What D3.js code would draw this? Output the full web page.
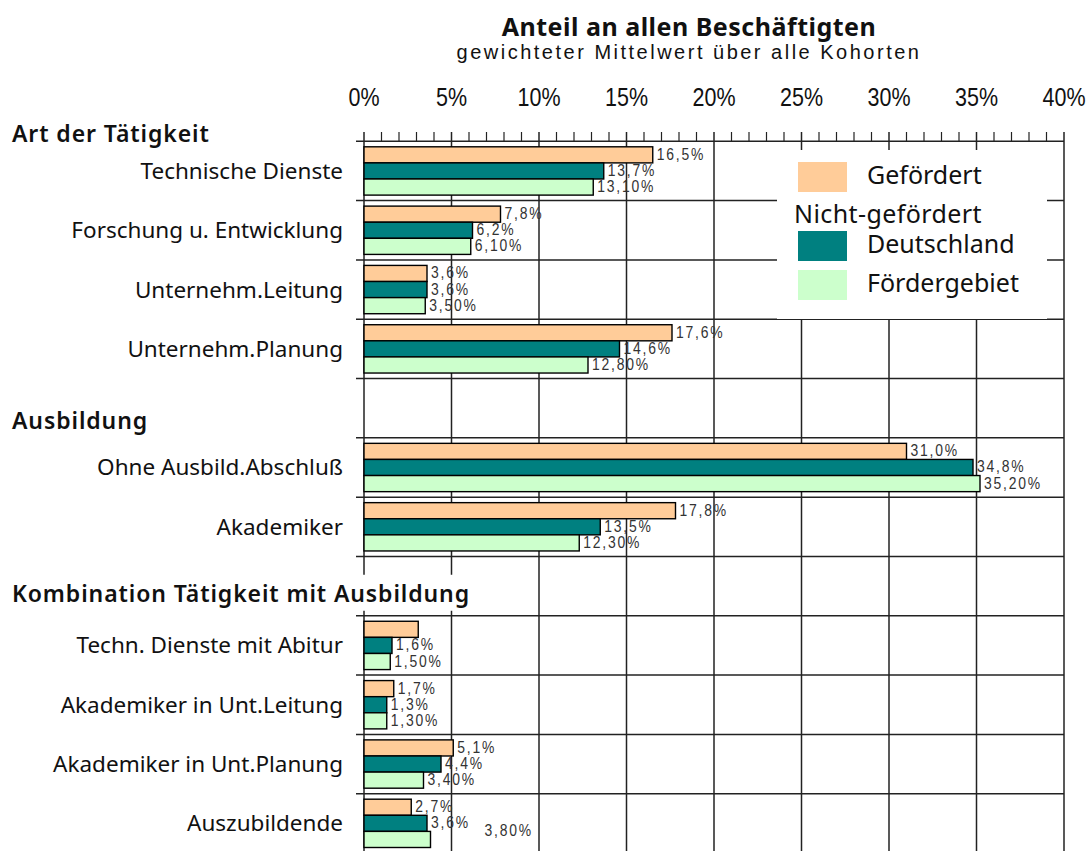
<!DOCTYPE html>
<html>
<head>
<meta charset="utf-8">
<script src="https://cdn.jsdelivr.net/npm/d3@7"></script>
<style>
  body { margin: 0; background: #fff; }
  text { font-family: "Noto Sans", sans-serif; fill: #111; }
  .narrow { font-family: "Liberation Sans", sans-serif; }
</style>
</head>
<body>
<div id="content"></div>
<script>
// data
const groups = ["Art der Tätigkeit", "Ausbildung", "Kombination Tätigkeit mit Ausbildung"]
const categories = ["Technische Dienste", "Forschung u. Entwicklung", "Unternehm.Leitung", "Unternehm.Planung",
  "Ohne Ausbild.Abschluß", "Akademiker",
  "Techn. Dienste mit Abitur", "Akademiker in Unt.Leitung", "Akademiker in Unt.Planung", "Auszubildende"]
const categoryGroup = [0, 0, 0, 0, 1, 1, 2, 2, 2, 2]
const gefoerdert = [16.5, 7.8, 3.6, 17.6, 31.0, 17.8, 3.1, 1.7, 5.1, 2.7]
const deutschland = [13.7, 6.2, 3.6, 14.6, 34.8, 13.5, 1.6, 1.3, 4.4, 3.6]
const foerdergebiet = [13.1, 6.1, 3.5, 12.8, 35.2, 12.3, 1.5, 1.3, 3.4, 3.8]
const gefoerdertLabelShown = [true, true, true, true, true, true, false, true, true, true]
const xTicks = [0, 5, 10, 15, 20, 25, 30, 35, 40]

const series = [
  {name: "Gefördert", values: gefoerdert, color: "#ffcc99", decimals: 1, shown: gefoerdertLabelShown},
  {name: "Deutschland", values: deutschland, color: "#008080", decimals: 1},
  {name: "Fördergebiet", values: foerdergebiet, color: "#ccffcc", decimals: 2},
]

const W = 1089, H = 851
const svg = d3.select("#content").append("svg")
    .attr("width", W)
    .attr("height", H)

// rows: categories plus one spacer row in front of every group except the first
const rows = []
categories.forEach((c, i) => {
  if (i > 0 && categoryGroup[i] !== categoryGroup[i - 1]) rows.push("__group" + categoryGroup[i])
  rows.push(c)
})

const xScale = d3.scaleLinear().domain([0, 40]).range([364, 1064])
const yScale = d3.scaleBand().domain(rows).range([141.3, 853]).paddingInner(0).paddingOuter(0)
const bh = yScale.bandwidth()
const inner = d3.scaleBand().domain(series.map(d => d.name)).range([5.5, bh - 5.5])

const gridColor = "#222"
const grid = svg.append("g")

// vertical grid lines
grid.selectAll(".vline").data(xTicks).join("line")
    .attr("x1", d => xScale(d)).attr("x2", d => xScale(d))
    .attr("y1", 132).attr("y2", H)
    .attr("stroke", gridColor).attr("stroke-width", 1.5)

// minor ticks at every percent
grid.selectAll(".minor").data(d3.range(0, 41).filter(d => d % 5 !== 0)).join("line")
    .attr("x1", d => xScale(d)).attr("x2", d => xScale(d))
    .attr("y1", 132).attr("y2", 141.3)
    .attr("stroke", gridColor).attr("stroke-width", 1.2)

// horizontal lines at row boundaries
const bounds = rows.map(r => yScale(r))
grid.selectAll(".hline").data(bounds).join("line")
    .attr("x1", 356).attr("x2", xScale(40))
    .attr("y1", d => d).attr("y2", d => d)
    .attr("stroke", gridColor).attr("stroke-width", 1.5)

// tick labels on top (condensed)
svg.append("g").selectAll("text").data(xTicks).join("text")
    .attr("class", "narrow")
    .attr("transform", d => `translate(${xScale(d)}, 106) scale(0.86, 1)`)
    .attr("text-anchor", "middle")
    .style("font-size", "25px")
    .text(d => d + "%")

// title
svg.append("text")
    .attr("x", 689).attr("y", 36)
    .attr("text-anchor", "middle")
    .style("font-size", "25px").style("font-weight", "bold").style("letter-spacing", "0.5px")
    .text("Anteil an allen Beschäftigten")
svg.append("text")
    .attr("class", "narrow")
    .attr("x", 689).attr("y", 59)
    .attr("text-anchor", "middle")
    .style("font-size", "20px").style("letter-spacing", "2.5px")
    .text("gewichteter Mittelwert über alle Kohorten")

// group headings (white boxes hide the grid behind them)
const headY = g => g === 0 ? yScale(categories[0]) + 1
  : yScale("__group" + g) + bh - (g === 1 ? 8.5 : 14)
const heads = svg.append("g").selectAll("g").data(groups).join("g")
heads.append("rect")
heads.append("text")
    .attr("x", 12)
    .attr("y", (d, i) => headY(i))
    .style("font-size", "23px").style("font-weight", "600").style("letter-spacing", "0.9px")
    .text(d => d)
heads.each(function() {
  const t = d3.select(this).select("text")
  const b = t.node().getBBox()
  d3.select(this).select("rect")
      .attr("x", b.x - 2).attr("y", b.y - 2)
      .attr("width", b.width + 4).attr("height", b.height + 4)
      .attr("fill", "#fff")
})

// category labels
svg.append("g").selectAll("text").data(categories).join("text")
    .attr("x", 343)
    .attr("y", d => yScale(d) + bh / 2 + 8)
    .attr("text-anchor", "end")
    .style("font-size", "22.5px")
    .text(d => d)

// legend
const legend = svg.append("g")
legend.append("rect")
    .attr("x", 777).attr("y", 150).attr("width", 270).attr("height", 169)
    .attr("fill", "#fff")
const legendRows = [
  {label: "Gefördert", color: series[0].color, y: 162},
  {label: "Deutschland", color: series[1].color, y: 231},
  {label: "Fördergebiet", color: series[2].color, y: 270},
]
legend.selectAll(".sw").data(legendRows).join("rect")
    .attr("x", 798).attr("y", d => d.y).attr("width", 49).attr("height", 30)
    .attr("fill", d => d.color)
legend.selectAll(".lt").data(legendRows).join("text")
    .attr("x", 867).attr("y", d => d.y + 22)
    .style("font-size", "25px")
    .text(d => d.label)
legend.append("text")
    .attr("x", 794).attr("y", 223)
    .style("font-size", "25px").style("letter-spacing", "0.4px")
    .text("Nicht-gefördert")

// bars
const fmt = (v, dec) => v.toFixed(dec).replace(".", ",") + "%"
const barsG = svg.append("g")
series.forEach(s => {
  const data = categories.map((c, i) => ({c, v: s.values[i], i}))
  barsG.append("g").selectAll("rect").data(data).join("rect")
      .attr("x", xScale(0))
      .attr("y", d => yScale(d.c) + inner(s.name))
      .attr("width", d => xScale(d.v) - xScale(0))
      .attr("height", inner.bandwidth())
      .attr("fill", s.color)
      .attr("stroke", "#000").attr("stroke-width", 1.4)
})
series.forEach((s, si) => {
  const data = categories.map((c, i) => ({c, v: s.values[i], i}))
    .filter(d => !s.shown || s.shown[d.i])
  // the last green label sits off to the right in the original
  const odd = d => si === 2 && d.i === categories.length - 1
  barsG.append("g").selectAll("text").data(data).join("text")
      .attr("class", "narrow")
      .attr("transform", d => `translate(${xScale(d.v) + 4 + (odd(d) ? 50 : 0)},
        ${yScale(d.c) + inner(s.name) + inner.bandwidth() / 2 + 5 - (odd(d) ? 8 : 0)}) scale(0.82, 1)`)
      .style("font-size", "17px").style("letter-spacing", "2.2px")
      .style("fill", "#333")
      .text(d => fmt(d.v, s.decimals))
})
</script>
</body>
</html>
